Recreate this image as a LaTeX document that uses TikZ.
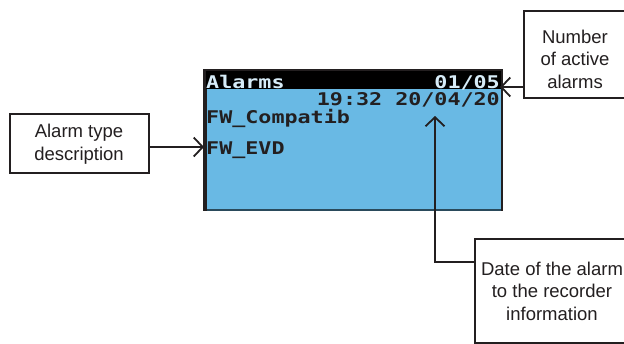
\documentclass[tikz,border=0pt]{standalone}
\usepackage{fontspec}
\setmainfont{Liberation Sans}
\newfontfamily\lcd[FakeStretch=1.24]{DejaVu Sans Mono}
\usetikzlibrary{arrows.meta,calc}
\definecolor{ink}{HTML}{231F20}
\definecolor{lcdblue}{RGB}{105,185,228}
\definecolor{lcdlight}{RGB}{215,236,248}
\tikzset{
  callout/.style={draw=ink, line width=1.8pt, fill=white, inner sep=0pt},
  lbl/.style={inner sep=0pt, align=center, text=ink, font=\fontsize{18.5}{22.5}\selectfont},
  lcdtxt/.style={inner sep=0pt, font=\lcd\bfseries\fontsize{17.5}{18}\selectfont},
  arr/.style={draw=ink, line width=1.8pt, -{Straight Barb[length=9pt,width=19pt,line width=1.8pt]}},
}
\begin{document}
\begin{tikzpicture}[x=1pt,y=-1pt]
\useasboundingbox (0,0) rectangle (624,343);
\clip (0,0) rectangle (624,343);
% screen
\node[fill=ink, minimum width=300pt, minimum height=142pt, inner sep=0pt, anchor=north west] (screen) at (203,69) {};
\fill[lcdblue] (207,71) rectangle (501,209);
\fill[black!60!lcdblue] (207,209) rectangle (501,211);
\fill[black] (206,71) rectangle (501,89);
\node[lcdtxt, text=lcdlight, anchor=base west] (t1) at (206,88) {Alarms};
\node[lcdtxt, text=lcdlight, anchor=base east] (t2) at (500,88) {01/05};
\node[lcdtxt, text=ink, anchor=base east] (t3) at (500,105) {19:32 20/04/20};
\node[lcdtxt, text=ink, anchor=base west] (t4) at (206,123) {FW\_Compatib};
\node[lcdtxt, text=ink, anchor=base west] (t5) at (206,154) {FW\_EVD};
% callout boxes
\node[callout, minimum width=139pt, minimum height=59pt, anchor=north west] (alarmbox) at (9,113) {};
\node[lbl] (alarmtxt) at (79,144) {Alarm type\\description};
\node[callout, minimum width=110pt, minimum height=87pt, anchor=north west] (numbox) at (523,10) {};
\node[lbl] (numtxt) at (575,59) {Number\\of active\\alarms};
\node[callout, minimum width=160pt, minimum height=104pt, anchor=north west] (datebox) at (474,238) {};
\node[lbl] (datetxt) at (552,291) {Date of the alarm\\to the recorder\\information};
% connectors
\coordinate (evdtip) at (204,147);
\coordinate (numtip) at (500,87);
\coordinate (datetip) at (435,116);
\draw[arr] (alarmbox.east |- evdtip) -- (evdtip);
\draw[arr] (numbox.west |- numtip) -- (numtip);
\draw[arr] ($(datebox.north west)+(0,24)$) -| (datetip);
\end{tikzpicture}
\end{document}
